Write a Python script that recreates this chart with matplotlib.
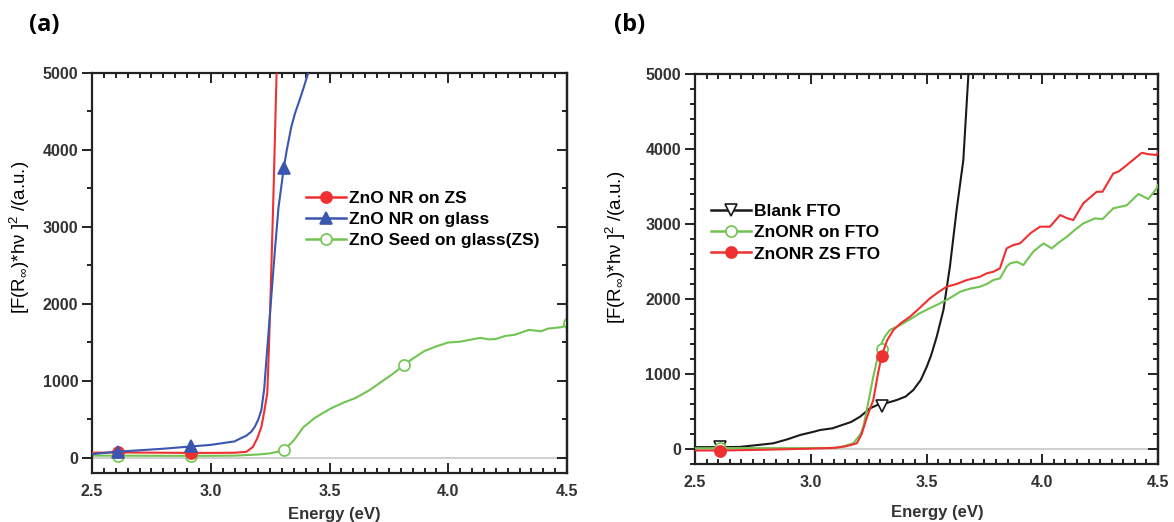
import matplotlib
matplotlib.use("Agg")
import matplotlib.pyplot as plt
from matplotlib.lines import Line2D
from matplotlib.ticker import MultipleLocator

plt.rcParams['font.family'] = ['Liberation Sans', 'DejaVu Sans']
plt.rcParams['mathtext.fontset'] = 'custom'
plt.rcParams['mathtext.rm'] = 'Liberation Sans'
plt.rcParams['mathtext.it'] = 'Liberation Sans'
plt.rcParams['mathtext.bf'] = 'Liberation Sans:bold'

# ---- panel (a): ZnO nanorods on glass / seed layer ----
a_red_e = [2.5, 2.6, 2.7, 2.8, 2.9, 3.0, 3.1, 3.15, 3.177, 3.195, 3.213, 3.225,
           3.238, 3.245, 3.252, 3.265, 3.277, 3.29]
a_red_v = [68, 72, 70, 68, 66, 66, 68, 80, 143, 250, 403, 600,
           845, 1450, 2145, 3550, 5000, 6500]

a_blue_e = [2.5, 2.6, 2.7, 2.8, 2.92, 3.0, 3.066, 3.1, 3.122, 3.15, 3.17, 3.185,
            3.2, 3.213, 3.225, 3.234, 3.245, 3.256, 3.27, 3.285, 3.307, 3.32,
            3.339, 3.355, 3.374, 3.39, 3.41, 3.43]
a_blue_v = [50, 80, 100, 120, 150, 170, 200, 215, 250, 290, 340, 403,
            500, 624, 900, 1274, 1700, 2145, 2700, 3250, 3760, 4000,
            4300, 4480, 4650, 4800, 5000, 5300]

a_green_e = [2.5, 2.61, 2.8, 2.92, 3.0, 3.1, 3.2, 3.25, 3.307, 3.35, 3.39, 3.436,
             3.47, 3.51, 3.56, 3.61, 3.67, 3.73, 3.77, 3.815, 3.85, 3.9, 3.95,
             4.0, 4.05, 4.1, 4.135, 4.17, 4.2, 4.24, 4.28, 4.34, 4.39, 4.42,
             4.45, 4.48, 4.5]
a_green_v = [30, 30, 28, 28, 28, 30, 45, 60, 100, 230, 400, 516,
             580, 650, 720, 780, 884, 1014, 1100, 1210, 1290, 1390, 1450,
             1500, 1510, 1540, 1560, 1540, 1545, 1585, 1600, 1664, 1645, 1680,
             1690, 1700, 1735]

# symbol positions (every 50 nm)
a_red_mk_e = [2.61, 2.918]
a_red_mk_v = [80, 68]
a_blue_mk_e = [2.61, 2.918, 3.307]
a_blue_mk_v = [75, 160, 3760]
a_green_mk_e = [2.61, 2.918, 3.307, 3.815, 4.509]
a_green_mk_v = [30, 25, 100, 1210, 1755]

# ---- panel (b): FTO substrates ----
b_black_e = [2.5, 2.6, 2.694, 2.77, 2.838, 2.9, 2.954, 3.014, 3.04, 3.094, 3.126,
             3.174, 3.213, 3.256, 3.297, 3.33, 3.371, 3.41, 3.443, 3.475, 3.501,
             3.52, 3.544, 3.573, 3.601, 3.63, 3.659, 3.681, 3.7]
b_black_v = [25, 25, 28, 53, 76, 130, 187, 231, 253, 276, 310,
             360, 431, 542, 600, 615, 653, 700, 787, 920, 1097,
             1250, 1497, 1853, 2431, 3187, 3853, 5000, 5800]

b_green_e = [2.5, 2.61, 2.8, 3.0, 3.1, 3.126, 3.184, 3.215, 3.227, 3.242, 3.256,
             3.27, 3.299, 3.32, 3.342, 3.386, 3.43, 3.47, 3.51, 3.558, 3.6,
             3.645, 3.69, 3.731, 3.76, 3.789, 3.817, 3.846, 3.861, 3.89, 3.918,
             3.961, 4.005, 4.041, 4.07, 4.106, 4.14, 4.177, 4.228, 4.26, 4.307,
             4.365, 4.415, 4.458, 4.494, 4.5]
b_green_v = [10, 12, 12, 12, 15, 22, 76, 200, 297, 520, 742,
             964, 1364, 1500, 1587, 1653, 1730, 1809, 1870, 1942, 2010,
             2097, 2140, 2164, 2200, 2253, 2275, 2431, 2475, 2497, 2453,
             2631, 2742, 2675, 2750, 2830, 2920, 3008, 3075, 3065, 3209,
             3250, 3400, 3333, 3475, 3520]

b_red_e = [2.5, 2.61, 2.8, 3.0, 3.1, 3.15, 3.199, 3.22, 3.24, 3.27, 3.29, 3.306,
           3.33, 3.357, 3.39, 3.429, 3.47, 3.515, 3.55, 3.587, 3.63, 3.674,
           3.731, 3.76, 3.789, 3.817, 3.846, 3.875, 3.904, 3.95, 3.99, 4.033,
           4.077, 4.105, 4.134, 4.177, 4.235, 4.26, 4.307, 4.33, 4.365, 4.43,
           4.46, 4.494, 4.5]
b_red_v = [-20, -20, -10, 5, 15, 35, 76, 200, 400, 653, 1000, 1240,
           1450, 1587, 1680, 1764, 1880, 2009, 2090, 2164, 2200, 2253,
           2297, 2342, 2364, 2409, 2675, 2720, 2742, 2880, 2964, 2964,
           3120, 3080, 3053, 3275, 3430, 3430, 3675, 3700, 3786, 3950,
           3930, 3920, 3960]

b_black_mk_e = [2.61, 3.307]
b_black_mk_v = [30, 580]
b_green_mk_e = [2.61, 3.307]
b_green_mk_v = [15, 1330]
b_red_mk_e = [2.61, 3.307]
b_red_mk_v = [-20, 1240]

RED = '#f03030'
BLUE = '#3a56b0'
GREEN = '#72c452'
BLACK = '#1a1a1a'

fig = plt.figure(figsize=(11.74, 5.22), dpi=100)
ax_a = fig.add_axes([0.0784, 0.0939, 0.4046, 0.7663])
ax_b = fig.add_axes([0.592, 0.1111, 0.3944, 0.7471])


def style_axes(ax, ylim, yminor):
    ax.set_xlim(2.5, 4.5)
    ax.set_ylim(*ylim)
    ax.axhline(0, color='#c8c8c8', lw=1.2, zorder=0)
    ax.xaxis.set_major_locator(MultipleLocator(0.5))
    ax.xaxis.set_minor_locator(MultipleLocator(0.05))
    ax.yaxis.set_major_locator(MultipleLocator(1000))
    ax.yaxis.set_minor_locator(MultipleLocator(yminor))
    ax.xaxis.set_major_formatter(plt.FormatStrFormatter('%.1f'))
    for s in ax.spines.values():
        s.set_linewidth(1.6)
        s.set_color('#222222')
    ax.tick_params(axis='x', which='both', direction='in', top=True,
                   width=1.4, color='#222222')
    ax.tick_params(axis='x', which='major', length=7, pad=8)
    ax.tick_params(axis='x', which='minor', length=3.5)
    ax.tick_params(axis='y', which='both', direction='out', width=1.4,
                   color='#222222')
    ax.tick_params(axis='y', which='major', length=7, pad=3)
    ax.tick_params(axis='y', which='minor', length=3.5)
    for lab in ax.get_xticklabels() + ax.get_yticklabels():
        lab.set_fontsize(11.5)
        lab.set_fontweight('bold')
        lab.set_color('#333333')
    # inward ticks along the right edge
    sec = ax.secondary_yaxis('right')
    sec.yaxis.set_major_locator(MultipleLocator(1000))
    sec.yaxis.set_minor_locator(MultipleLocator(yminor))
    sec.tick_params(which='both', direction='in', labelright=False,
                    width=1.4, color='#222222')
    sec.tick_params(which='major', length=7)
    sec.tick_params(which='minor', length=3.5)
    sec.spines['right'].set_linewidth(1.6)


def draw(ax, e, v, mk_e, mk_v, color, marker, face, ms, z):
    ax.plot(e, v, color=color, lw=1.5, zorder=z)
    ax.plot(mk_e, mk_v, ls='none', marker=marker, ms=ms, mfc=face,
            mec=color, mew=1.2, zorder=z + 0.5, clip_on=True)
    return Line2D([], [], color=color, lw=1.8, marker=marker, ms=ms,
                  mfc=face, mec=color, mew=1.2)


ylabel = r'$\mathrm{[F(R_{\infty})}$*h$\nu$ $\mathrm{]^{2}}$ /(a.u.)'

# panel (a)
h_g = draw(ax_a, a_green_e, a_green_v, a_green_mk_e, a_green_mk_v, GREEN, 'o', 'white', 8, 2)
h_r = draw(ax_a, a_red_e, a_red_v, a_red_mk_e, a_red_mk_v, RED, 'o', RED, 8, 3)
h_b = draw(ax_a, a_blue_e, a_blue_v, a_blue_mk_e, a_blue_mk_v, BLUE, '^', BLUE, 8, 4)
style_axes(ax_a, (-195, 5000), 500)
ax_a.legend([h_r, h_b, h_g],
            ['ZnO NR on ZS', 'ZnO NR on glass', 'ZnO Seed on glass(ZS)'],
            loc='upper left', bbox_to_anchor=(0.417, 0.745), frameon=False,
            handlelength=2.3, handletextpad=0.2, labelspacing=0.35,
            prop={'size': 12.5, 'weight': 'bold'})
ax_a.set_ylabel(ylabel, fontsize=13.5)
ax_a.yaxis.set_label_coords(-0.127, 0.59)
ax_a.set_xlabel('Energy (eV)', fontsize=12, fontweight='bold', color='#333333')
ax_a.xaxis.set_label_coords(0.51, -0.085)

# panel (b)
k_k = draw(ax_b, b_black_e, b_black_v, b_black_mk_e, b_black_mk_v, BLACK, 'v', 'white', 8, 2)
k_g = draw(ax_b, b_green_e, b_green_v, b_green_mk_e, b_green_mk_v, GREEN, 'o', 'white', 8, 3)
k_r = draw(ax_b, b_red_e, b_red_v, b_red_mk_e, b_red_mk_v, RED, 'o', RED, 8, 4)
style_axes(ax_b, (-200, 5000), 200)
ax_b.legend([k_k, k_g, k_r], ['Blank FTO', 'ZnONR on FTO', 'ZnONR ZS FTO'],
            loc='upper left', bbox_to_anchor=(0.0, 0.707), frameon=False,
            handlelength=2.3, handletextpad=0.2, labelspacing=0.35,
            prop={'size': 12.5, 'weight': 'bold'})
ax_b.set_ylabel(ylabel, fontsize=13.5)
ax_b.yaxis.set_label_coords(-0.145, 0.556)
ax_b.set_xlabel('Energy (eV)', fontsize=12, fontweight='bold', color='#333333')
ax_b.xaxis.set_label_coords(0.523, -0.105)

fig.text(0.038, 0.952, '(a)', fontsize=17, fontweight='bold',
         family=['Open Sans', 'DejaVu Sans'], va='center', ha='center')
fig.text(0.536, 0.952, '(b)', fontsize=17, fontweight='bold',
         family=['Open Sans', 'DejaVu Sans'], va='center', ha='center')

fig.savefig('out.png', dpi=100)
